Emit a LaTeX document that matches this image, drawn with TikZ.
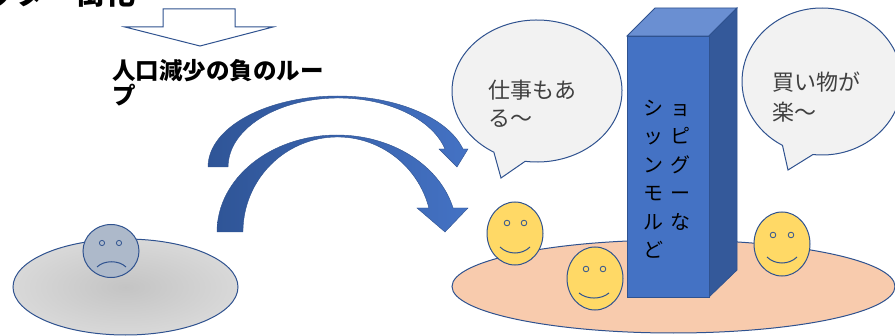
\documentclass[tikz,border=0pt]{standalone}
\usepackage{fontspec}
\newfontfamily\jp{Noto Sans CJK JP}
\definecolor{edge}{HTML}{2F528F}
\definecolor{arrowdark}{HTML}{2F5597}
\definecolor{arrowlight}{HTML}{4472C4}
\definecolor{boxfront}{HTML}{4472C4}
\definecolor{boxtop}{HTML}{6A8FD2}
\definecolor{boxside}{HTML}{34599A}
\definecolor{bubblefill}{HTML}{F2F2F2}
\definecolor{bubbletext}{HTML}{404040}
\definecolor{facey}{HTML}{FFD966}
\definecolor{sadface}{HTML}{ADB9CA}
\definecolor{peach}{HTML}{F8CBAD}
\definecolor{floorin}{HTML}{C4C4C4}
\definecolor{floorout}{HTML}{EDEDED}
\pgfdeclareradialshading{floorgray}{\pgfpoint{0bp}{0bp}}{color(0bp)=(floorin); color(50bp)=(floorout)}
\tikzset{
  outline/.style={draw=edge, line width=1pt},
  face/.style={outline, fill=facey},
  eye/.style={outline, line width=0.8pt},
  bubble/.style={outline, fill=bubblefill},
  bendarrow/.style={draw=edge, line width=0.4pt, left color=arrowdark, right color=arrowlight},
  heading/.style={inner sep=0pt, anchor=base west, font=\jp\bfseries\fontsize{23.5pt}{25pt}\selectfont},
  saying/.style={inner sep=0pt, anchor=base west, text=bubbletext, font=\jp\fontsize{22pt}{28pt}\selectfont},
  boxtext/.style={inner sep=0pt, anchor=base west, font=\jp\fontsize{20pt}{28pt}\selectfont},
}
\begin{document}
\begin{tikzpicture}[x=1pt, y=1pt]
\useasboundingbox (0,0) rectangle (895,335);
\clip (0,0) rectangle (895,335);

% caption running off the top edge
\node[inner sep=0pt, anchor=base west, font=\jp\bfseries\fontsize{30pt}{34pt}\selectfont] (toptext) at (-75,330) {シャッター街化};

% hollow block arrow pointing down
\draw[outline, fill=white] (163,326) -- (163,308) -- (125,308) -- (200,289)
  -- (273,308) -- (235,308) -- (235,326) -- cycle;

% loop caption
\node[heading] (loop1) at (112,255.3) {人口減少の負のルー};
\node[heading] (loop2) at (112,230.8) {プ};

% grey ground with the sad face
\path[outline, shading=floorgray] (125.5,48) ellipse[x radius=112.5pt, y radius=48pt];
\draw[outline, fill=sadface] (111,84) ellipse[x radius=28pt, y radius=26.5pt];
\draw[eye, fill=sadface] (102,92) circle[radius=2.6pt];
\draw[eye, fill=sadface] (119,92) circle[radius=2.6pt];
\draw[outline] (97,68) .. controls (104,75) and (119,75) .. (126,68);

% two curved arrows
\path[bendarrow] (208,168) arc[start angle=180, end angle=14.69, x radius=129.6pt, y radius=71pt]
  -- (468,186) -- (457,168) -- (439,186) -- (445.0,186)
  arc[start angle=15.12, end angle=180, x radius=110.4pt, y radius=69pt] -- cycle;
\path[bendarrow] (217,103) arc[start angle=180, end angle=14.33, x radius=119.9pt, y radius=97pt]
  -- (468,127) -- (445,103) -- (417,127) -- (428.9,127)
  arc[start angle=14.63, end angle=180, x radius=94.5pt, y radius=95pt] -- cycle;

% speech bubbles
\draw[bubble] (537,244) ++(262:85pt and 71pt)
  arc[start angle=262, end angle=599.5, x radius=85pt, y radius=71pt] -- (501,157) -- cycle;
\node[saying] (say1a) at (488,236.6) {仕事もあ};
\node[saying] (say1b) at (488,208.6) {る～};

\draw[bubble] (822,253.5) ++(263.5:80pt and 73.5pt)
  arc[start angle=263.5, end angle=600.4, x radius=80pt, y radius=73.5pt] -- (788,165) -- cycle;
\node[saying] (say2a) at (772,244.6) {買い物が};
\node[saying] (say2b) at (772,214.6) {楽～};

% peach ground
\draw[outline, fill=peach] (673.5,48.5) ellipse[x radius=221.5pt, y radius=46.5pt];

% smiling faces
\draw[face] (515,101.5) ellipse[x radius=28pt, y radius=31.5pt];
\draw[eye, fill=facey] (507,112) circle[radius=2.8pt];
\draw[eye, fill=facey] (524,112) circle[radius=2.8pt];
\draw[outline] (500,88) .. controls (508,80) and (522,80) .. (530,88);

\draw[face] (595,56.5) ellipse[x radius=28pt, y radius=31.5pt];
\draw[eye, fill=facey] (586,66) circle[radius=2.8pt];
\draw[eye, fill=facey] (603,66) circle[radius=2.8pt];
\draw[outline] (579,42) .. controls (587,35.3) and (601,35.3) .. (609,42);

\draw[face] (782,91) ellipse[x radius=28pt, y radius=32pt];
\draw[eye, fill=facey] (773,100) circle[radius=2.8pt];
\draw[eye, fill=facey] (791,100) circle[radius=2.8pt];
\draw[outline] (767,78) .. controls (775,70) and (789,70) .. (797,78);

% shopping mall block
\draw[outline, line width=0.8pt, fill=boxtop] (627,299) -- (709,299) -- (737,327) -- (655,327) -- cycle;
\draw[outline, line width=0.8pt, fill=boxside] (709,299) -- (737,327) -- (737,65) -- (709,38) -- cycle;
\draw[outline, line width=0.8pt, fill=boxfront] (627,38) rectangle (709,299);
\node[boxtext] (mall1) at (643,219.4) {シ\hspace{7pt}ョ};
\node[boxtext] (mall2) at (643,191.0) {ッ\hspace{7pt}ピ};
\node[boxtext] (mall3) at (643,162.6) {ン\hspace{7pt}グ};
\node[boxtext] (mall4) at (643,134.2) {モ\hspace{7pt}ー};
\node[boxtext] (mall5) at (643,105.8) {ル\hspace{7pt}な};
\node[boxtext] (mall6) at (643,77.4) {ど};
\end{tikzpicture}
\end{document}
